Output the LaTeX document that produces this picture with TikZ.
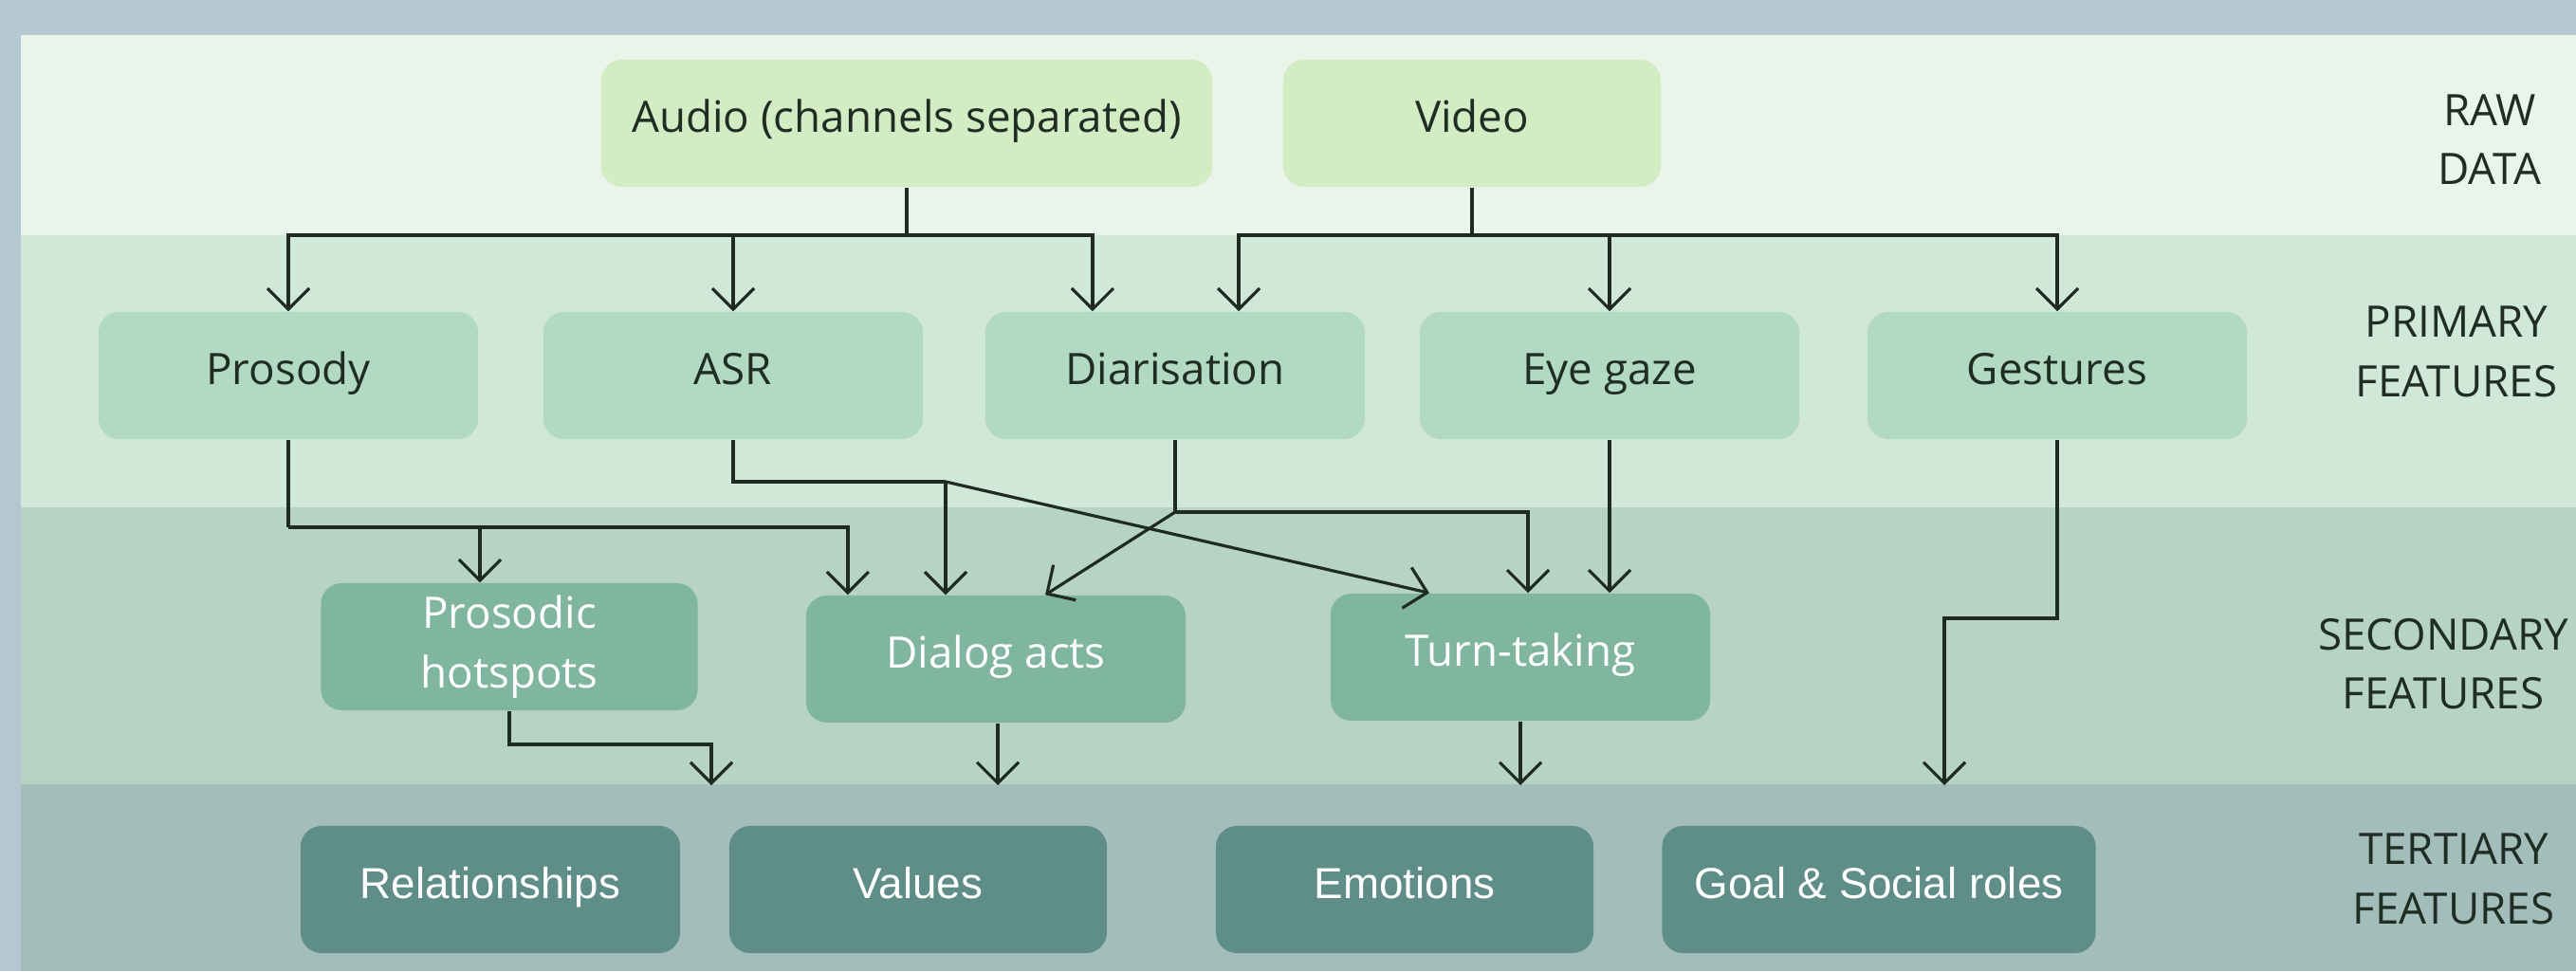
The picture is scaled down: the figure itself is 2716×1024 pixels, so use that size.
\documentclass[tikz,border=0pt]{standalone}
\usepackage{fontspec}
\setmainfont{Open Sans}
\newfontfamily\arialfont{Liberation Sans}
\usepackage{tikz}
\usetikzlibrary{arrows.meta, calc}
\definecolor{outerbg}{HTML}{B4C8D2}
\definecolor{rawband}{HTML}{EAF4EA}
\definecolor{primband}{HTML}{D0E8D8}
\definecolor{secband}{HTML}{B6D3C5}
\definecolor{terband}{HTML}{A3BDBA}
\definecolor{rawfill}{HTML}{D2EDC3}
\definecolor{primfill}{HTML}{B2D9C1}
\definecolor{secfill}{HTML}{80B59F}
\definecolor{terfill}{HTML}{5F8E89}
\definecolor{darktext}{HTML}{1F2D25}
\definecolor{linecol}{HTML}{1E2A22}
\tikzset{>={Straight Barb[length=2.2mm,width=4.4mm]}}
\tikzset{
  box/.style={rounded corners=0.22cm, minimum width=4cm, minimum height=1.34cm,
    align=center, inner sep=0pt, font=\fontsize{13}{17.8}\selectfont},
  oneline/.style={text height=0.76em, text depth=0.24em},
  rawbox/.style={box, oneline, fill=rawfill, text=darktext},
  primbox/.style={box, oneline, fill=primfill, text=darktext},
  secbox/.style={box, fill=secfill, text=white},
  terbox/.style={box, oneline, fill=terfill, text=white, font=\arialfont\fontsize{13}{17.8}\selectfont},
  lvl/.style={align=center, text=darktext, font=\fontsize{13}{17.8}\selectfont},
  conn/.style={draw=linecol, line width=0.9pt},
}

\begin{document}
\begin{tikzpicture}[x=0.01cm, y=-0.01cm]
    \useasboundingbox (0,0) rectangle (2716,1024);
    \fill[outerbg] (0,0) rectangle (2716,1024);
    % level bands
    \fill[rawband] (22,37) rectangle (2716,248);
    \fill[primband] (22,248) rectangle (2716,535);
    \fill[secband] (22,535) rectangle (2716,827);
    \fill[terband] (22,827) rectangle (2716,1024);

    \node[rawbox, minimum width=6.44cm] (audio) at (956,130) {Audio (channels separated)};
    \node[rawbox, minimum width=3.98cm] (video) at (1552,130) {Video};

    \node[primbox] (prosody) at (304,396) {Prosody};
    \node[primbox] (asr) at (773,396) {ASR};
    \node[primbox] (diar) at (1239,396) {Diarisation};
    \node[primbox] (eye) at (1697,396) {Eye gaze};
    \node[primbox] (gest) at (2169,396) {Gestures};

    \node[secbox, minimum width=3.97cm] (hot) at (537,682) {Prosodic\\hotspots};
    \node[secbox, oneline] (dia) at (1050,695) {Dialog acts};
    \node[secbox, oneline] (turn) at (1603,693) {Turn-taking};

    \node[terbox] (rel) at (517,938) {Relationships};
    \node[terbox, minimum width=3.98cm] (val) at (968,938) {Values};
    \node[terbox, minimum width=3.98cm] (emo) at (1481,938) {Emotions};
    \node[terbox, minimum width=4.57cm] (goal) at (1981,938) {Goal \& Social roles};

    \node[lvl] (lraw) at (2625,147) {RAW\\DATA};
    \node[lvl] (lprim) at (2590,371) {PRIMARY\\FEATURES};
    \node[lvl] (lsec) at (2576,700) {SECONDARY\\FEATURES};
    \node[lvl] (lter) at (2587,927) {TERTIARY\\FEATURES};

    % raw -> primary
    \draw[conn] (audio.south) -- (audio.south |- 0,248) coordinate (abus);
    \draw[conn, ->] (abus) -| (prosody.north);
    \draw[conn, ->] (abus) -| (asr.north);
    \draw[conn, ->] (abus) -| ([xshift=-0.87cm]diar.north);
    \draw[conn] (video.south) -- (video.south |- 0,248) coordinate (vbus);
    \draw[conn, ->] (vbus) -| ([xshift=0.67cm]diar.north);
    \draw[conn, ->] (vbus) -| (eye.north);
    \draw[conn, ->] (vbus) -| (gest.north);

    % primary -> secondary
    \draw[conn] (prosody.south) -- (prosody.south |- 0,556) coordinate (pbus);
    \draw[conn, ->] (pbus) -| ([xshift=-0.31cm]hot.north);
    \draw[conn, ->] (pbus) -| ([xshift=-1.56cm]dia.north);
    \coordinate (asrk) at (997,508);
    \draw[conn] (asr.south) |- (asrk);
    \draw[conn, ->] (asrk) -- (asrk |- dia.north);
    \draw[conn, ->] (asrk) -- ([xshift=-0.96cm]turn.north);
    \draw[conn] (diar.south) -- (diar.south |- 0,540) coordinate (dk);
    \draw[conn, ->] (dk) -| ([xshift=0.08cm]turn.north);
    \draw[conn, ->] (dk) -- ([xshift=0.52cm]dia.north);
    \draw[conn, ->] (eye.south) -- (eye.south |- turn.north);

    % secondary -> tertiary
    \coordinate (relin) at (750,828);
    \coordinate (valin) at (1052,828);
    \coordinate (emoin) at (1603,828);
    \coordinate (goalin) at (2050,828);
    \draw[conn, ->] (hot.south) |- (relin |- 0,785) -- (relin);
    \draw[conn, ->] (dia.south -| valin) -- (valin);
    \draw[conn, ->] (turn.south) -- (emoin);
    \draw[conn, ->] (gest.south) |- (goalin |- 0,652) -- (goalin);
\end{tikzpicture}
\end{document}
